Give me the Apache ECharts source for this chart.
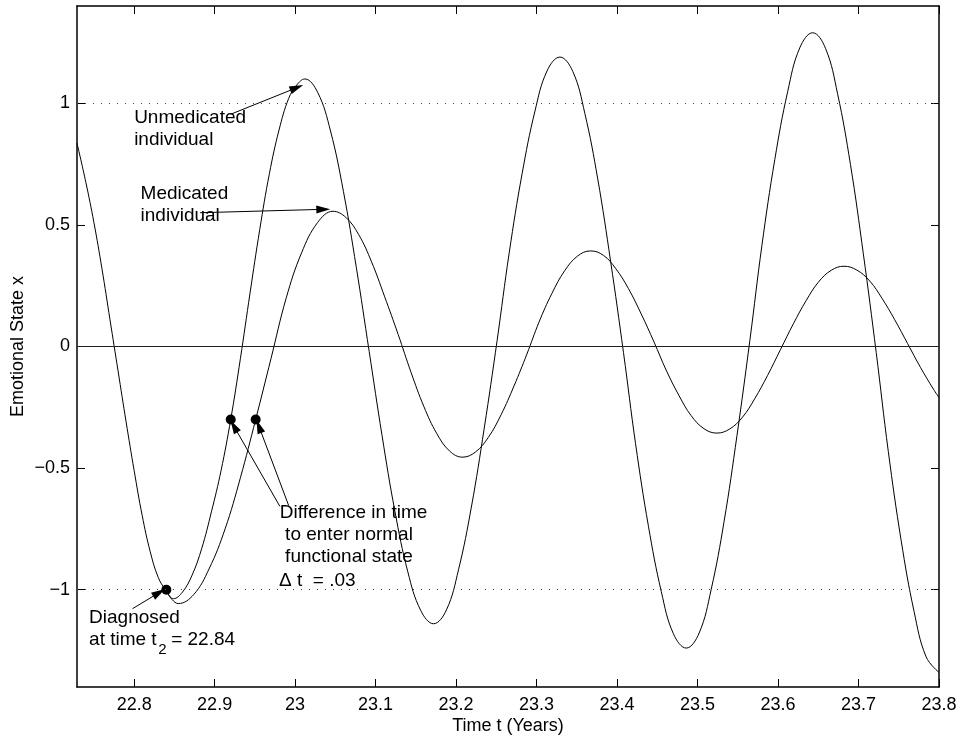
<!DOCTYPE html>
<html>
<head>
<meta charset="utf-8">
<script src="https://cdn.jsdelivr.net/npm/echarts@6/dist/echarts.min.js"></script>
<style>
html, body { margin: 0; padding: 0; background: #fff; }
#chart { width: 962px; height: 740px; }
</style>
</head>
<body>
<div id="chart"></div>
<script>
// time axis and emotional state readings
var tMin = 22.729, tMax = 23.8;
var xTicks = [22.8, 22.9, 23, 23.1, 23.2, 23.3, 23.4, 23.5, 23.6, 23.7, 23.8];
var yTicks = [-1, -0.5, 0, 0.5, 1];
var normalBand = [1, -1];

var unmedT = [22.729, 22.740, 22.750, 22.760, 22.770, 22.780, 22.790, 22.800, 22.810, 22.820,
	22.830, 22.839, 22.849, 22.860, 22.872, 22.884, 22.896, 22.908, 22.920, 22.932,
	22.944, 22.956, 22.968, 22.980, 22.992, 23.002, 23.012, 23.028, 23.044, 23.060,
	23.076, 23.092, 23.108, 23.124, 23.140, 23.156, 23.172, 23.188, 23.203, 23.219,
	23.235, 23.251, 23.266, 23.282, 23.298, 23.313, 23.329, 23.345, 23.360, 23.376,
	23.392, 23.408, 23.423, 23.439, 23.455, 23.470, 23.486, 23.502, 23.517, 23.533,
	23.549, 23.565, 23.580, 23.596, 23.612, 23.627, 23.643, 23.659, 23.674, 23.690,
	23.706, 23.722, 23.737, 23.753, 23.769, 23.784, 23.800];
var unmedX = [0.836, 0.675, 0.51, 0.32, 0.11, -0.10, -0.31, -0.51, -0.695, -0.844,
	-0.95, -1.00, -1.037, -1.01, -0.94, -0.83, -0.68, -0.51, -0.30, -0.05,
	0.22, 0.48, 0.71, 0.89, 1.02, 1.075, 1.10, 1.045, 0.886, 0.638,
	0.326, -0.02, -0.366, -0.678, -0.926, -1.085, -1.14, -1.083, -0.918, -0.660,
	-0.335, 0.025, 0.385, 0.710, 0.968, 1.133, 1.19, 1.131, 0.958, 0.689,
	0.350, -0.025, -0.400, -0.739, -1.008, -1.181, -1.24, -1.178, -0.998, -0.719,
	-0.366, 0.025, 0.416, 0.769, 1.048, 1.228, 1.29, 1.226, 1.039, 0.748,
	0.381, -0.025, -0.431, -0.798, -1.089, -1.276, -1.34];

var medT = [22.839, 22.847, 22.855, 22.874, 22.893, 22.913, 22.932, 22.951, 22.970, 22.989,
	23.008, 23.028, 23.047, 23.063, 23.079, 23.095, 23.111, 23.128, 23.144, 23.160,
	23.176, 23.192, 23.208, 23.224, 23.240, 23.256, 23.272, 23.288, 23.303, 23.319,
	23.335, 23.351, 23.367, 23.383, 23.398, 23.414, 23.430, 23.446, 23.461, 23.477,
	23.492, 23.508, 23.524, 23.540, 23.556, 23.571, 23.587, 23.603, 23.619, 23.635,
	23.650, 23.666, 23.682, 23.698, 23.714, 23.729, 23.745, 23.761, 23.777, 23.793,
	23.800];
var medX = [-1.00, -1.04, -1.057, -1.02, -0.915, -0.75, -0.54, -0.30, -0.05, 0.20,
	0.385, 0.51, 0.556, 0.531, 0.460, 0.348, 0.207, 0.050, -0.106, -0.247,
	-0.358, -0.430, -0.455, -0.434, -0.374, -0.280, -0.162, -0.031, 0.100, 0.218,
	0.312, 0.372, 0.393, 0.375, 0.322, 0.239, 0.134, 0.018, -0.097, -0.202,
	-0.284, -0.338, -0.356, -0.339, -0.290, -0.215, -0.119, -0.013, 0.093, 0.189,
	0.264, 0.313, 0.330, 0.314, 0.269, 0.199, 0.110, 0.012, -0.086, -0.175,
	-0.21];

// marked points: diagnosis and entering normal state
var dotT = [22.84, 22.92, 22.951];
var dotX = [-1, -0.3, -0.3];

// arrows [fromT, fromX, toT, toX]
var arrows = [
	[22.920, 0.955, 23.002, 1.064],
	[22.882, 0.550, 23.035, 0.564],
	[22.798, -1.078, 22.831, -1.012],
	[22.981, -0.657, 22.924, -0.328],
	[22.992, -0.654, 22.955, -0.328]
];

// annotation text anchored in data coords (left, middle)
var notes = [
	['Unmedicated', 22.800, 0.940],
	['individual', 22.800, 0.850],
	['Medicated', 22.808, 0.626],
	['individual', 22.808, 0.536],
	['Diagnosed', 22.744, -1.117],
	['at time t', 22.744, -1.204],
	['= 22.84', 22.846, -1.204],
	['Difference in time', 22.981, -0.683],
	[' to enter normal', 22.981, -0.773],
	[' functional state', 22.981, -0.863],
	['\u0394 t  = .03', 22.980, -0.963]
];
var subNote = ['2', 22.830, -1.247];

var FONT = '"Liberation Sans", Arial, Helvetica, sans-serif';

function zip(a, b) {
	var out = [];
	for (var i = 0; i < a.length; i++) {
		out.push([a[i], b[i]]);
	}
	return out;
}

function fmtNum(v) {
	var s = String(+(+v).toFixed(2));
	return s.replace('-', '\u2212');
}

var arrowHead = 'path://M0,0L4,14L-4,14Z';
var arrowData = arrows.map(function(a) {
	return [
		{coord: [a[0], a[1]], symbol: 'none'},
		{coord: [a[2], a[3]], symbol: arrowHead, symbolSize: [8, 14]}
	];
});

var hLines = normalBand.map(function(v) {
	return {yAxis: v, lineStyle: {type: [1, 7], color: '#444', width: 1}};
});
hLines.push({yAxis: 0, lineStyle: {type: 'solid', color: '#222', width: 1}});

var tickStyle = {show: true, inside: true, length: 8, lineStyle: {color: '#000', width: 1}};
var lineAxis = {show: true, onZero: false, lineStyle: {color: '#000', width: 1.5}};

var chart = echarts.init(document.getElementById('chart'));
chart.setOption({
	animation: false,
	backgroundColor: '#fff',
	textStyle: {fontFamily: FONT},
	grid: {left: 77, right: 23, top: 6, bottom: 53, containLabel: false, outerBoundsMode: 'none'},
	xAxis: [{
		type: 'value',
		min: tMin,
		max: tMax,
		position: 'bottom',
		name: 'Time t (Years)',
		nameLocation: 'middle',
		nameGap: 30,
		nameMoveOverlap: false,
		nameTextStyle: {fontSize: 18, color: '#000', fontFamily: FONT},
		axisLine: lineAxis,
		axisTick: Object.assign({customValues: xTicks}, tickStyle),
		axisLabel: {customValues: xTicks, fontSize: 18, color: '#000', margin: 9, fontFamily: FONT, formatter: fmtNum},
		splitLine: {show: false}
	}, {
		type: 'value',
		min: tMin,
		max: tMax,
		position: 'top',
		axisLine: lineAxis,
		axisTick: Object.assign({customValues: xTicks}, tickStyle),
		axisLabel: {show: false},
		splitLine: {show: false}
	}],
	yAxis: [{
		type: 'value',
		min: -1.4,
		max: 1.4,
		position: 'left',
		name: 'Emotional State x',
		nameLocation: 'middle',
		nameGap: 50,
		nameMoveOverlap: false,
		nameTextStyle: {fontSize: 18, color: '#000', fontFamily: FONT},
		axisLine: lineAxis,
		axisTick: Object.assign({customValues: yTicks}, tickStyle),
		axisLabel: {customValues: yTicks, fontSize: 18, color: '#000', margin: 7, fontFamily: FONT, formatter: fmtNum},
		splitLine: {show: false}
	}, {
		type: 'value',
		min: -1.4,
		max: 1.4,
		position: 'right',
		axisLine: lineAxis,
		axisTick: Object.assign({customValues: yTicks}, tickStyle),
		axisLabel: {show: false},
		splitLine: {show: false}
	}],
	series: [{
		name: 'Unmedicated individual',
		type: 'line',
		data: zip(unmedT, unmedX),
		showSymbol: false,
		smooth: 0.4,
		lineStyle: {color: '#000', width: 1},
		markLine: {
			silent: true,
			symbol: 'none',
			label: {show: false},
			data: hLines
		}
	}, {
		name: 'Medicated individual',
		type: 'line',
		data: zip(medT, medX),
		showSymbol: false,
		smooth: 0.4,
		lineStyle: {color: '#000', width: 1}
	}, {
		name: 'points',
		type: 'scatter',
		data: zip(dotT, dotX),
		symbolSize: 10,
		itemStyle: {color: '#000', opacity: 1},
		markLine: {
			silent: true,
			label: {show: false},
			lineStyle: {color: '#000', width: 1, type: 'solid'},
			itemStyle: {color: '#000'},
			data: arrowData
		}
	}]
});

// annotation texts
var graphics = notes.map(function(n) {
	var p = chart.convertToPixel({seriesIndex: 0}, [n[1], n[2]]);
	return {
		type: 'text',
		x: p[0],
		y: p[1],
		silent: true,
		style: {text: n[0], fill: '#000', font: '19px ' + FONT, verticalAlign: 'middle'}
	};
});
var sp = chart.convertToPixel({seriesIndex: 0}, [subNote[1], subNote[2]]);
graphics.push({
	type: 'text',
	x: sp[0],
	y: sp[1],
	silent: true,
	style: {text: subNote[0], fill: '#000', font: '15px ' + FONT, verticalAlign: 'middle'}
});
chart.setOption({graphic: graphics});
</script>
</body>
</html>
